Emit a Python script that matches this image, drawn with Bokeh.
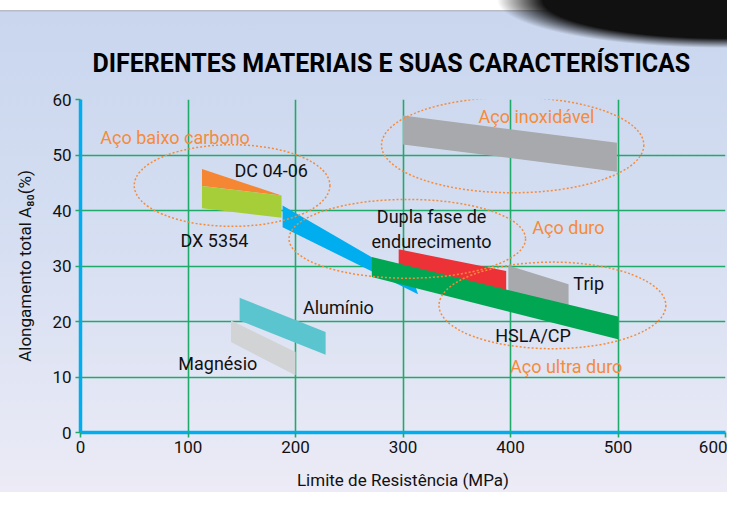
from bokeh.plotting import figure
from bokeh.models import Range1d, SingleIntervalTicker
from bokeh.core.properties import value
from bokeh.embed import file_html
from bokeh.resources import INLINE

# ---------------- data ----------------
x_ticks = [0, 100, 200, 300, 400, 500, 600]
y_ticks = [0, 10, 20, 30, 40, 50, 60]

# material bands (Limite de Resistência MPa, Alongamento %)
magnesio_x = [140, 200, 200, 140]
magnesio_y = [20.2, 14.5, 10.3, 16.3]
aluminio_x = [148, 228, 228, 148]
aluminio_y = [24.3, 18.1, 14.0, 20.2]
dc0406_x = [113, 187, 113]
dc0406_y = [47.5, 42.7, 44.4]
dx5354_x = [113, 187, 187, 113]
dx5354_y = [44.4, 42.7, 38.7, 40.4]
dupla_azul_x = [188, 310, 314, 188]
dupla_azul_y = [40.9, 27.2, 24.9, 37.0]
dupla_verm_x = [296, 396, 396, 296]
dupla_verm_y = [33.0, 29.1, 25.6, 29.8]
trip_x = [398, 454, 454, 398]
trip_y = [30.1, 26.7, 22.8, 25.4]
hsla_x = [271, 500, 500, 271]
hsla_y = [31.6, 20.9, 16.8, 28.0]
inox_x = [300, 499, 499, 300]
inox_y = [57.1, 52.2, 47.0, 51.9]

band_xs = [magnesio_x, aluminio_x, dc0406_x, dx5354_x, dupla_azul_x,
           dupla_verm_x, trip_x, hsla_x, inox_x]
band_ys = [magnesio_y, aluminio_y, dc0406_y, dx5354_y, dupla_azul_y,
           dupla_verm_y, trip_y, hsla_y, inox_y]
band_colors = ["#d1d3d4", "#5bc5cf", "#f58634", "#a6ce39", "#00aeef",
               "#ed3237", "#a7a9ac", "#00a651", "#a7a9ac"]

# group ellipses (center x, center y, width, height)
grp_x = [141, 402, 304, 439]
grp_y = [44.5, 51.8, 34.9, 22.9]
grp_w = [182, 244, 220, 211]
grp_h = [14.7, 17.2, 14.2, 15.6]

# labels
black_text = ["DC 04-06", "DX 5354", "Dupla fase de", "endurecimento",
              "Trip", "HSLA/CP", "Alumínio", "Magnésio"]
black_x = [177.4, 124.5, 326.6, 326.6, 472.7, 421.0, 239.9, 127.7]
black_y = [47.2, 34.6, 39.0, 34.4, 26.8, 17.5, 22.6, 12.5]
orange_text = ["Aço baixo carbono", "Aço inoxidável", "Aço duro", "Aço ultra duro"]
orange_x = [88.0, 424.2, 453.9, 451.8]
orange_y = [53.2, 56.9, 37.0, 11.9]

# ---------------- figure ----------------
W, H = 727, 492
p = figure(width=W, height=H, output_backend="svg", toolbar_location=None,
           x_range=Range1d(0, 600), y_range=Range1d(0, 60),
           frame_width=645, frame_height=333,
           min_border_left=80, min_border_right=2,
           min_border_top=99, min_border_bottom=60,
           title="DIFERENTES MATERIAIS E SUAS CARACTERÍSTICAS")

p.border_fill_alpha = 0
p.background_fill_alpha = 0
p.outline_line_color = None
p.styles = {
    "background": (
        "radial-gradient(ellipse 230px 48px at 100% 0%, #111 0%, #111 80%, rgba(17,17,17,0) 100%), "
        "linear-gradient(to bottom, #ffffff 0px, #ffffff 10px, #b8bcc4 10px, #b8bcc4 11px, "
        "#c9d6ee 12px, #d6dff2 50%, #ecebf6 100%)"
    )
}

p.title.text_font = "Roboto"
p.title.text_font_style = "bold"
p.title.text_font_size = "25px"
p.title.text_color = "#000000"
p.title.align = "left"
p.title.offset = 12
p.title.standoff = 44

grid_c = "#1faa6a"
p.xgrid.ticker = SingleIntervalTicker(interval=100)
p.ygrid.ticker = SingleIntervalTicker(interval=10)
for g in (p.xgrid, p.ygrid):
    g.grid_line_color = grid_c
    g.grid_line_width = 1.6

for ax in (p.xaxis, p.yaxis):
    ax.axis_line_color = "#00aeef"
    ax.axis_line_width = 3.5
    ax.major_tick_line_color = grid_c
    ax.major_tick_line_width = 1.6
    ax.major_tick_out = 5
    ax.major_tick_in = 0
    ax.minor_tick_line_color = None
    ax.major_label_text_font = "Roboto"
    ax.major_label_text_font_size = "17px"
    ax.major_label_text_color = "#111111"
    ax.axis_label_text_font = "Roboto"
    ax.axis_label_text_font_size = "17px"
    ax.axis_label_text_font_style = "normal"
    ax.axis_label_text_color = "#111111"

p.xaxis.ticker = x_ticks
p.yaxis.ticker = y_ticks
p.xaxis.major_label_standoff = 3
p.yaxis.major_label_standoff = 4
p.xaxis.axis_label = "Limite de Resistência (MPa)"
p.yaxis.axis_label = "Alongamento total A₈₀(%)"
p.xaxis.axis_label_standoff = 14
p.yaxis.axis_label_standoff = 14

p.patches(band_xs, band_ys, fill_color=band_colors, line_color=None, fill_alpha=1)

p.ellipse(x=grp_x, y=grp_y, width=grp_w, height=grp_h, fill_alpha=0,
          line_color="#f68b3a", line_width=1.5, line_dash="2 2")

p.text(x=black_x, y=black_y, text=black_text, text_align="center",
       text_baseline="middle", text_font=value("Roboto"),
       text_font_size=value("18px"), text_color="#111111")
p.text(x=orange_x, y=orange_y, text=orange_text, text_align="center",
       text_baseline="middle", text_font=value("Roboto"),
       text_font_size=value("18px"), text_color="#f68b3a")

open("out.html", "w").write(file_html(p, INLINE))
